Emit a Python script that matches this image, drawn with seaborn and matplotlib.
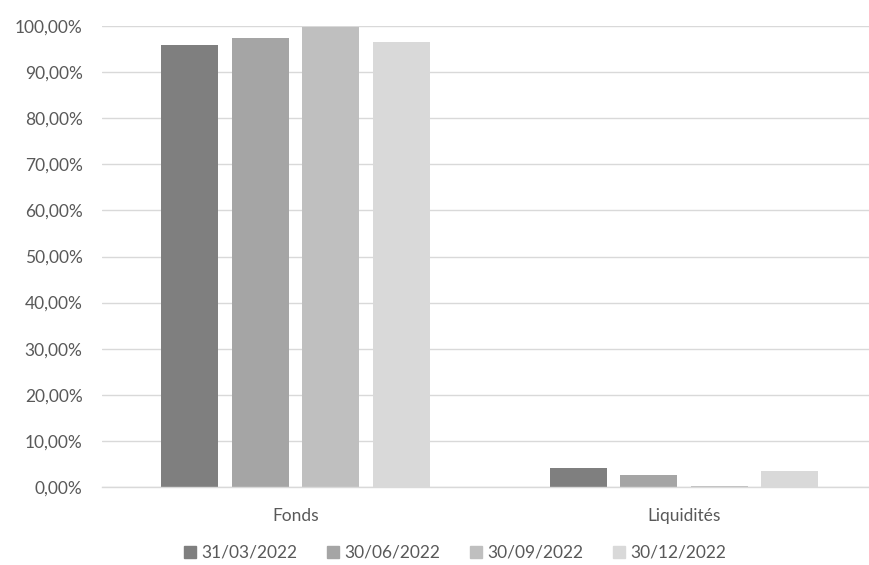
import matplotlib
matplotlib.use("Agg")
import matplotlib.pyplot as plt
from matplotlib.ticker import FuncFormatter
import seaborn as sns
import pandas as pd

categories = ["Fonds", "Liquidités"]
dates = ["31/03/2022", "30/06/2022", "30/09/2022", "30/12/2022"]
fonds = [0.9595, 0.9730, 0.9970, 0.9660]
liquidites = [0.0405, 0.0270, 0.0030, 0.0340]
colors = ["#7f7f7f", "#a5a5a5", "#bfbfbf", "#d9d9d9"]

rows = []
for d, f, l in zip(dates, fonds, liquidites):
    rows.append({"Catégorie": categories[0], "Date": d, "Valeur": f})
    rows.append({"Catégorie": categories[1], "Date": d, "Valeur": l})
df = pd.DataFrame(rows)

sns.set_theme(style="white")
plt.rcParams["font.family"] = ["Lato", "DejaVu Sans"]

fig = plt.figure(figsize=(8.7, 5.65), dpi=100)
ax = fig.add_axes([102 / 870, 78 / 565, 768 / 870, 461 / 565])

sns.barplot(data=df, x="Catégorie", y="Valeur", hue="Date",
            order=categories, hue_order=dates, palette=colors,
            width=0.726, gap=0.19, saturation=1, linewidth=0,
            ax=ax, legend=False)

ax.set_ylim(0, 1.0)
ax.set_xlim(-0.498, 1.479)
ax.set_yticks([i / 10 for i in range(11)])
ax.yaxis.set_major_formatter(FuncFormatter(lambda v, p: f"{v * 100:.2f}%".replace(".", ",")))
ax.grid(axis="y", color="#d9d9d9", linewidth=1)
ax.set_axisbelow(True)
for s in ["top", "right", "left"]:
    ax.spines[s].set_visible(False)
ax.spines["bottom"].set_color("#d9d9d9")
ax.spines["bottom"].set_linewidth(1)
ax.set_xlabel("")
ax.set_ylabel("")
ax.tick_params(axis="y", length=0, pad=14, labelsize=12.5, labelcolor="#595959")
ax.tick_params(axis="x", length=0, pad=15, labelsize=12.5, labelcolor="#595959")

handles = [plt.Rectangle((0, 0), 1, 1, color=c) for c in colors]
fig.legend(handles, dates, loc="center", bbox_to_anchor=(455 / 870, 1 - 553 / 565),
           ncol=4, frameon=False, fontsize=12.5, labelcolor="#595959",
           handlelength=0.7, handleheight=0.7, handletextpad=0.3, columnspacing=1.7)

fig.savefig("out.png", dpi=100)
